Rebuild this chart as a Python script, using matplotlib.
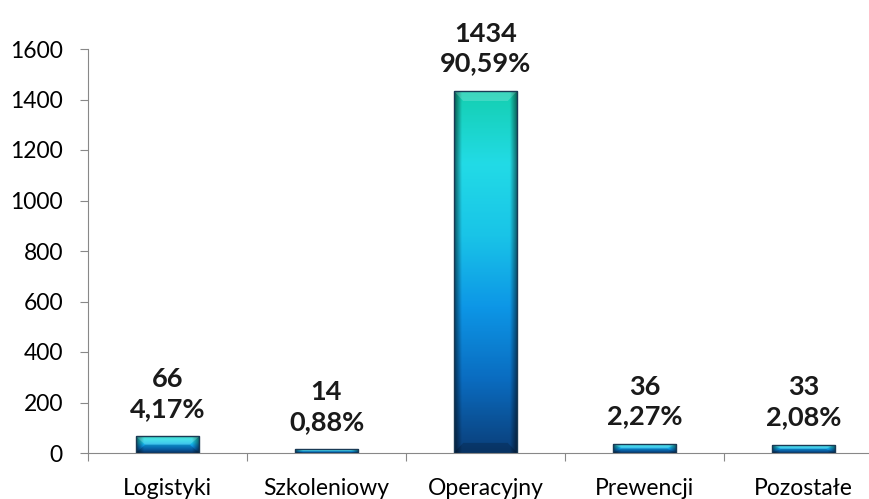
import matplotlib.pyplot as plt
import numpy as np
from matplotlib.colors import LinearSegmentedColormap
from matplotlib.patches import Rectangle, Polygon

categories = ['Logistyki', 'Szkoleniowy', 'Operacyjny', 'Prewencji', 'Pozostałe']
values = [66, 14, 1434, 36, 33]
percents = ['4,17%', '0,88%', '90,59%', '2,27%', '2,08%']

plt.rcParams['font.family'] = ['Lato', 'DejaVu Sans']

fig = plt.figure(figsize=(8.7, 4.99), dpi=100)
ax = fig.add_axes([88 / 870, 46 / 499, 795 / 870, 404 / 499])

# pionowy gradient: od dołu ciemnoniebieski do turkusowego na górze
grad = LinearSegmentedColormap.from_list(
    'bar', ['#0b3f7a', '#0a6cc0', '#0d96e6', '#19c4e8', '#22dbe6', '#14cfb0'])

bar_w = 0.4
dx = 0.06   # głębokość fazy w poziomie
for i, v in enumerate(values):
    x0 = i - bar_w / 2
    ny, nx = 200, 60
    t = np.linspace(0, 1, ny)[:, None]
    rgb = grad(np.repeat(t, nx, axis=1))[..., :3]
    # przyciemnienie krawędzi (efekt fazy)
    s = np.linspace(0, 1, nx)
    edge = 1 - 0.55 * np.clip(1 - np.minimum(s, 1 - s) / 0.12, 0, 1)
    rgb = rgb * edge[None, :, None]
    im = ax.imshow(rgb, origin='lower', aspect='auto',
                   extent=[x0, x0 + bar_w, 0, v], zorder=2, interpolation='bilinear')
    rect = Rectangle((x0, 0), bar_w, v, fill=False, edgecolor='#1a3a55', lw=1, zorder=4)
    ax.add_patch(rect)
    im.set_clip_path(rect)
    dy = min(40, v / 2)
    top = Polygon([(x0, v), (x0 + bar_w, v), (x0 + bar_w - dx, v - dy), (x0 + dx, v - dy)],
                  facecolor='white', alpha=0.18, lw=0, zorder=3)
    bot = Polygon([(x0, 0), (x0 + bar_w, 0), (x0 + bar_w - dx, dy), (x0 + dx, dy)],
                  facecolor='black', alpha=0.18, lw=0, zorder=3)
    ax.add_patch(top)
    ax.add_patch(bot)
    ax.annotate(f'{v}\n{percents[i]}', (i, v), xytext=(0, 11), textcoords='offset points',
                ha='center', va='bottom', fontsize=19.5, fontweight='bold',
                color='#1a1a1a', linespacing=1.3)

ax.set_xlim(-0.5, len(categories) - 0.5)
ax.set_ylim(0, 1600)
ax.set_yticks(range(0, 1601, 200))
ax.set_xticks(np.arange(-0.5, len(categories), 1))
ax.set_xticklabels([])
ax.set_xticks(range(len(categories)), minor=True)
ax.set_xticklabels(categories, minor=True)
ax.tick_params(axis='x', which='minor', length=0, pad=18, labelsize=16.5)
ax.tick_params(axis='x', which='major', length=6, color='#888888')
ax.tick_params(axis='y', length=6, color='#888888', labelsize=16.5, pad=12)

for side in ['top', 'right']:
    ax.spines[side].set_visible(False)
for side in ['left', 'bottom']:
    ax.spines[side].set_color('#888888')

fig.savefig('out.png', dpi=100)
